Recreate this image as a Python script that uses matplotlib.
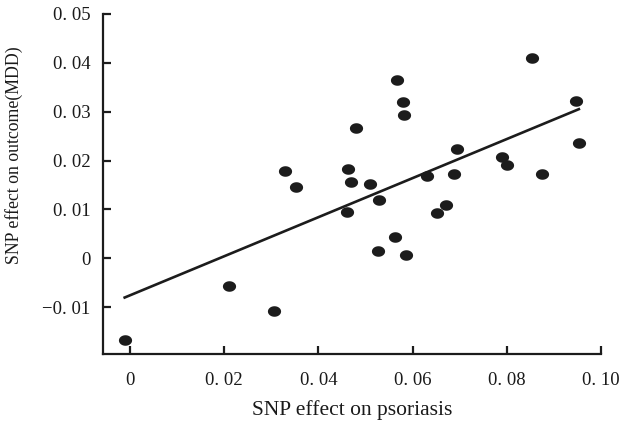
import numpy as np
import matplotlib
matplotlib.use("Agg")
import matplotlib.pyplot as plt

# Data
psoriasis = [-0.0011, 0.0211, 0.0306, 0.0330, 0.0353, 0.0460, 0.0462, 0.0470, 0.0479,
             0.0509, 0.0528, 0.0526, 0.0562, 0.0566, 0.0579, 0.0581, 0.0587, 0.0630,
             0.0651, 0.0672, 0.0694, 0.0689, 0.0789, 0.0800, 0.0853, 0.0874, 0.0947, 0.0953]
mdd = [-0.0167, -0.0057, -0.0108, 0.0178, 0.0145, 0.0094, 0.0182, 0.0157, 0.0267,
       0.0151, 0.0120, 0.0014, 0.0043, 0.0365, 0.0320, 0.0294, 0.0006, 0.0169,
       0.0092, 0.0110, 0.0224, 0.0173, 0.0208, 0.0190, 0.0410, 0.0173, 0.0322, 0.0235]
fit_slope = 0.400
fit_intercept = -0.0076

xticks = [0, 0.02, 0.04, 0.06, 0.08, 0.10]
xtick_labels = ["0", "0. 02", "0. 04", "0. 06", "0. 08", "0. 10"]
yticks = [-0.01, 0, 0.01, 0.02, 0.03, 0.04, 0.05]
ytick_labels = ["\u22120. 01", "0", "0. 01", "0. 02", "0. 03", "0. 04", "0. 05"]
xlabel = "SNP effect on psoriasis"
ylabel = "SNP effect on outcome(MDD)"

plt.rcParams['font.family'] = ['Liberation Serif', 'DejaVu Serif']
tick_font = dict(size=13.5, color='#1a1a1a')

fig = plt.figure(figsize=(6.2, 4.25), dpi=100)
ax = fig.add_axes([103/620, 1 - 354/425, (601 - 103)/620, (354 - 14)/425])

t = np.linspace(0, 2*np.pi, 60)
ell = np.column_stack([1.25*np.cos(t), np.sin(t)])
ax.scatter(psoriasis, mdd, marker=ell, s=90, color='#1c1c1c', linewidths=0, zorder=3)

lx = np.array([min(psoriasis), max(psoriasis)])
ax.plot(lx, fit_slope*lx + fit_intercept, color='#1c1c1c', lw=1.9, zorder=2)

ax.set_xlim(-0.0057, 0.100)
ax.set_ylim(-0.0196, 0.050)
ax.set_xticks(xticks)
ax.set_xticklabels(xtick_labels, fontdict=tick_font)
ax.set_yticks(yticks)
ax.set_yticklabels(ytick_labels, fontdict=tick_font)

for s in ['top', 'right']:
    ax.spines[s].set_visible(False)
for s in ['left', 'bottom']:
    ax.spines[s].set_linewidth(1.6)
    ax.spines[s].set_color('#1c1c1c')

ax.tick_params(axis='both', direction='in', length=6, width=1.6, color='#1c1c1c')
ax.tick_params(axis='x', pad=13)
ax.tick_params(axis='y', pad=9)

ax.set_xlabel(xlabel, fontsize=15.5, color='#1a1a1a', labelpad=8)
ax.set_ylabel(ylabel, fontsize=12.8, color='#1a1a1a')
ax.yaxis.set_label_coords(-0.16, 0.585)

fig.savefig("out.png", dpi=100)
